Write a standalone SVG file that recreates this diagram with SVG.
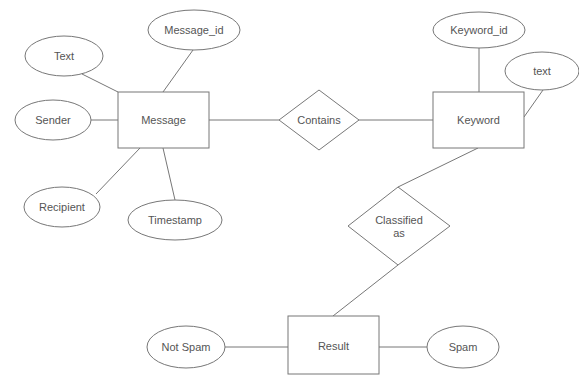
<svg xmlns="http://www.w3.org/2000/svg" width="579" height="376" viewBox="0 0 579 376">
<style>
.s{fill:#fff;stroke:#777;stroke-width:1}
.l{stroke:#777;stroke-width:1;fill:none}
text{font-family:"Liberation Sans",Arial,sans-serif;font-size:11px;fill:#555;text-anchor:middle;dominant-baseline:central}
</style>
<rect width="579" height="376" fill="#fff"/>
<g id="connectors">
<line class="l" x1="82" y1="74" x2="118" y2="92"/>
<line class="l" x1="193" y1="50" x2="163" y2="92"/>
<line class="l" x1="91" y1="120" x2="118" y2="120"/>
<line class="l" x1="96" y1="194" x2="140" y2="148"/>
<line class="l" x1="163" y1="148" x2="175" y2="200"/>
<line class="l" x1="209" y1="120" x2="279" y2="120"/>
<line class="l" x1="359" y1="120" x2="433" y2="120"/>
<line class="l" x1="479" y1="48" x2="479" y2="92"/>
<line class="l" x1="543" y1="90" x2="524" y2="117"/>
<line class="l" x1="478" y1="148" x2="398" y2="187"/>
<line class="l" x1="398" y1="265" x2="333" y2="316"/>
<line class="l" x1="225" y1="347" x2="288" y2="347"/>
<line class="l" x1="379" y1="347" x2="427" y2="347"/>
</g>
<g id="message"><rect class="s" x="118" y="92" width="91" height="56"/><text x="163.5" y="120">Message</text></g>
<g id="text-attr"><ellipse class="s" cx="64" cy="56" rx="39" ry="20"/><text x="64" y="56">Text</text></g>
<g id="message-id"><ellipse class="s" cx="194" cy="30" rx="46" ry="20"/><text x="194" y="30">Message_id</text></g>
<g id="sender"><ellipse class="s" cx="53" cy="120" rx="38" ry="20"/><text x="53" y="120">Sender</text></g>
<g id="recipient"><ellipse class="s" cx="62" cy="207" rx="38" ry="20"/><text x="62" y="207">Recipient</text></g>
<g id="timestamp"><ellipse class="s" cx="175" cy="220" rx="47" ry="20"/><text x="175" y="220">Timestamp</text></g>
<g id="contains"><polygon class="s" points="279,120 319,90 359,120 319,150"/><text x="319" y="120">Contains</text></g>
<g id="keyword"><rect class="s" x="433" y="92" width="91" height="56"/><text x="478.5" y="120">Keyword</text></g>
<g id="keyword-id"><ellipse class="s" cx="479" cy="30" rx="46" ry="18"/><text x="479" y="30">Keyword_id</text></g>
<g id="text-kw"><ellipse class="s" cx="542" cy="71" rx="37" ry="19"/><text x="542" y="71">text</text></g>
<g id="classified"><polygon class="s" points="348,226 398,187 450,226 398,265"/><text x="399" y="220">Classified</text><text x="399" y="233">as</text></g>
<g id="result"><rect class="s" x="288" y="316" width="91" height="58"/><text x="333.5" y="346">Result</text></g>
<g id="not-spam"><ellipse class="s" cx="186" cy="347" rx="39" ry="21"/><text x="186" y="347">Not Spam</text></g>
<g id="spam"><ellipse class="s" cx="463" cy="347" rx="36" ry="21"/><text x="463" y="347">Spam</text></g>
</svg>
